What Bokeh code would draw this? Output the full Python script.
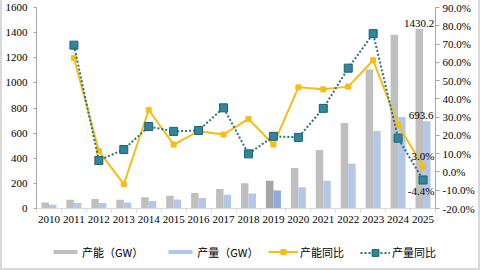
import numpy as np
from bokeh.plotting import figure
from bokeh.layouts import column
from bokeh.models import (ColumnDataSource, Range1d, LinearAxis, FixedTicker,
                          PrintfTickFormatter, Legend, LegendItem)
from bokeh.core.properties import value
from bokeh.transform import dodge
from bokeh.embed import file_html
from bokeh.resources import INLINE

# Annual capacity / output (GW) and year-on-year growth (%)
years = [str(y) for y in range(2010, 2026)]
capacity_gw = [48, 69, 75, 69, 90, 101, 124, 156, 201, 220, 323, 466, 680, 1106, 1384, 1430.2]
output_gw = [29, 43, 43, 48, 59, 71, 83, 109, 119, 143, 170, 220, 357, 617, 728, 693.6]
capacity_yoy = [np.nan, 62.3, 11.4, -6.7, 33.9, 15.0, 22.3, 20.5, 29.0, 15.0, 46.3, 45.2, 46.7, 61.1, 25.8, 3.0]
output_yoy = [np.nan, 69.4, 6.3, 12.3, 24.9, 22.2, 22.7, 35.1, 9.9, 19.5, 18.9, 34.8, 56.8, 75.7, 18.5, -4.4]

left_ticks = [0, 200, 400, 600, 800, 1000, 1200, 1400, 1600]
right_ticks = [-20, -10, 0, 10, 20, 30, 40, 50, 60, 70, 80, 90]
highlight_year = "2019"

SERIF = "'Liberation Serif', serif"
CJK = "'Noto Sans CJK SC'"
GRAY, GRAY_HI = "#bfbfbf", "#a5a5a5"
BLUE, BLUE_HI = "#b4c7e7", "#8faadc"
YELLOW = "#f3bf16"
TEAL, TEAL_EDGE, TEAL_LINE = "#31859c", "#1f5f70", "#2a6f82"

n = len(years)
pos = np.arange(n) + 0.5
src = ColumnDataSource(dict(
    x=pos, cap=capacity_gw, out=output_gw,
    cap_yoy=capacity_yoy, out_yoy=output_yoy,
    cap_color=[GRAY_HI if y == highlight_year else GRAY for y in years],
    out_color=[BLUE_HI if y == highlight_year else BLUE for y in years],
))

p = figure(width=476, height=234, output_backend="svg", toolbar_location=None,
           x_range=Range1d(0, n), y_range=Range1d(left_ticks[0], left_ticks[-1]),
           min_border_left=30, min_border_right=43, min_border_top=7, min_border_bottom=26)
p.frame_align = False
p.outline_line_color = None
p.grid.visible = False
p.extra_y_ranges = {"pct": Range1d(right_ticks[0], right_ticks[-1])}

# bars
p.vbar(x=dodge("x", -0.15), top="cap", width=0.3, source=src,
       fill_color="cap_color", line_color=None)
p.vbar(x=dodge("x", 0.15), top="out", width=0.3, source=src,
       fill_color="out_color", line_color=None)

# growth lines
line_styles = {
    "cap": dict(line_color=YELLOW, line_width=2),
    "out": dict(line_color=TEAL_LINE, line_width=2, line_dash="2 2"),
}
marker_styles = {
    "cap": dict(marker="square", size=5, fill_color=YELLOW, line_color=YELLOW),
    "out": dict(marker="square", size=8, fill_color=TEAL, line_color=TEAL_EDGE),
}
p.line("x", "cap_yoy", source=src, y_range_name="pct", **line_styles["cap"])
p.scatter("x", "cap_yoy", source=src, y_range_name="pct", **marker_styles["cap"])
p.line("x", "out_yoy", source=src, y_range_name="pct", **line_styles["out"])
p.scatter("x", "out_yoy", source=src, y_range_name="pct", **marker_styles["out"])

# value labels for the latest year
last = n - 1
lbl_font = dict(text_font=value(SERIF), text_font_size="11px", text_color="#000000",
                text_align="center")
p.text(x=[pos[last]], y=[capacity_gw[last]], text=[f"{capacity_gw[last]:.1f}"],
       text_baseline="bottom", y_offset=-2, x_offset=-4, **lbl_font)
p.text(x=[pos[last]], y=[output_gw[last]], text=[f"{output_gw[last]:.1f}"],
       text_baseline="bottom", y_offset=-2, x_offset=-2, **lbl_font)
p.text(x=[pos[last]], y=[capacity_yoy[last]], text=[f"{capacity_yoy[last]:.1f}%"],
       y_range_name="pct", text_baseline="bottom", y_offset=-4, **lbl_font)
p.text(x=[pos[last]], y=[output_yoy[last]], text=[f"{output_yoy[last]:.1f}%"],
       y_range_name="pct", text_baseline="top", y_offset=5, x_offset=-2, **lbl_font)

# axes
def style_axis(ax):
    ax.major_label_text_font = SERIF
    ax.major_label_text_font_size = "11px"
    ax.major_label_text_color = "#000000"
    ax.minor_tick_line_color = None

xa = p.xaxis[0]
style_axis(xa)
xa.ticker = FixedTicker(ticks=list(pos), minor_ticks=list(range(n + 1)))
xa.major_label_overrides = {float(x): y for x, y in zip(pos, years)}
xa.major_tick_line_color = None
xa.major_tick_out = 4
xa.minor_tick_line_color = "#d9d9d9"
xa.minor_tick_out = 4
xa.minor_tick_in = 0
xa.axis_line_color = "#d9d9d9"
xa.major_label_standoff = 3

ya = p.yaxis[0]
style_axis(ya)
ya.ticker = FixedTicker(ticks=left_ticks, minor_ticks=[])
ya.axis_line_color = "#a6a6a6"
ya.major_tick_line_color = "#a6a6a6"
ya.major_tick_out = 3
ya.major_tick_in = 0
ya.major_label_standoff = 6

ra = LinearAxis(y_range_name="pct", ticker=FixedTicker(ticks=right_ticks, minor_ticks=[]),
                formatter=PrintfTickFormatter(format="%.1f%%"))
style_axis(ra)
ra.axis_line_color = "#a6a6a6"
ra.major_tick_line_color = "#a6a6a6"
ra.major_tick_out = 4
ra.major_tick_in = 0
ra.major_label_standoff = 3
p.add_layout(ra, "right")

# legend strip beneath the chart; its key renderers share the data but stay hidden
key = figure(width=476, height=34, output_backend="svg", toolbar_location=None,
             x_range=Range1d(0, n), y_range=Range1d(0, 1),
             x_axis_location=None, y_axis_location=None,
             min_border_left=0, min_border_right=0, min_border_top=0, min_border_bottom=0)
key.frame_align = False
key.outline_line_color = None
key.grid.visible = False

cap_bar_key = key.vbar(x="x", top="cap", width=0.3, source=src, fill_color=GRAY,
                       line_color=None, visible=False)
out_bar_key = key.vbar(x="x", top="out", width=0.3, source=src, fill_color=BLUE,
                       line_color=None, visible=False)
cap_keys = [key.line("x", "cap_yoy", source=src, visible=False, **line_styles["cap"]),
            key.scatter("x", "cap_yoy", source=src, visible=False, **marker_styles["cap"])]
out_keys = [key.line("x", "out_yoy", source=src, visible=False, **line_styles["out"]),
            key.scatter("x", "out_yoy", source=src, visible=False, **marker_styles["out"])]

def add_legend(items, x, glyph_h):
    h = max(glyph_h, 15)
    lg = Legend(items=items, orientation="horizontal", location=(x, 16 - h / 2),
                glyph_width=30, glyph_height=glyph_h, label_height=13,
                label_text_font=CJK, label_text_font_size="11px", label_text_color="#000000",
                label_standoff=2, spacing=22, padding=0, margin=0,
                border_line_color=None, background_fill_alpha=0)
    key.add_layout(lg, "center")

add_legend([LegendItem(label="产能（GW）", renderers=[cap_bar_key]),
            LegendItem(label="产量（GW）", renderers=[out_bar_key])], 48, 5)
add_legend([LegendItem(label="产能同比", renderers=cap_keys)], 266, 13)
add_legend([LegendItem(label="产量同比", renderers=out_keys)], 358, 17)

layout = column(p, key, spacing=0)
layout.styles = {"border": "2px solid #d9d9d9", "border-top": "none"}

open("out.html", "w").write(file_html(layout, INLINE))
